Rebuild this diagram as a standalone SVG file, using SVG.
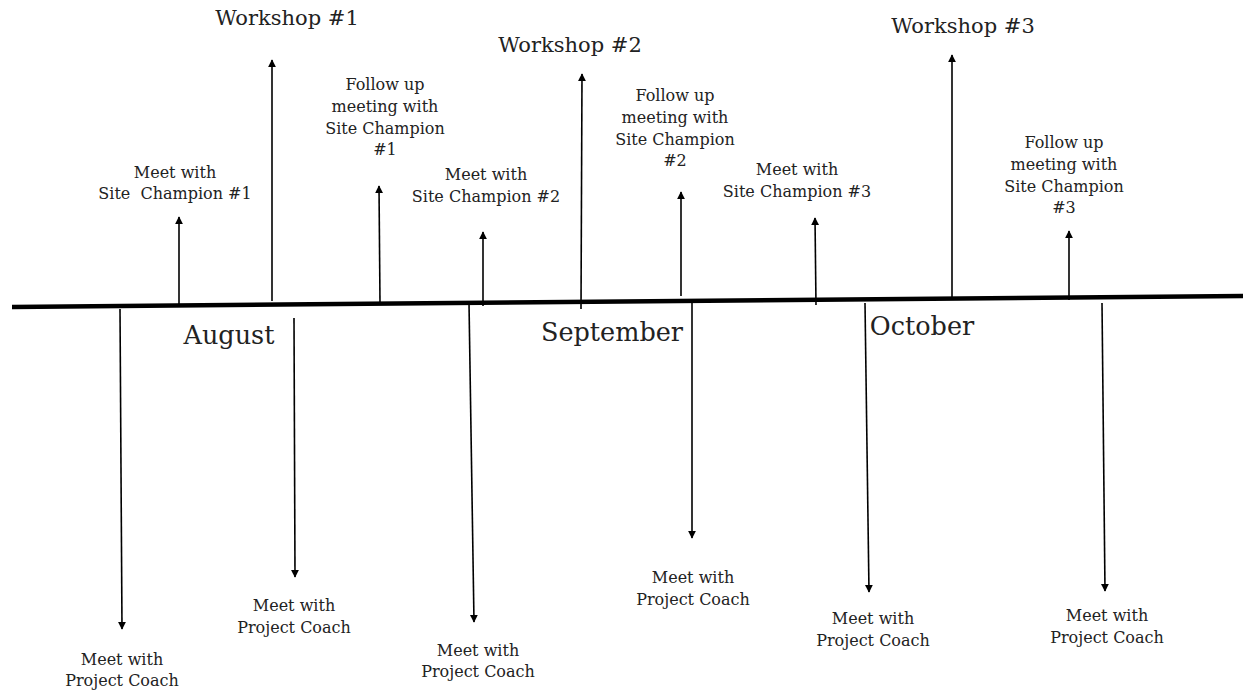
<svg xmlns="http://www.w3.org/2000/svg" width="1243" height="692" viewBox="0 0 1243 692">
<style>
  text { font-family: "DejaVu Serif", "Liberation Serif", serif; fill: #222; text-anchor: middle; }
  .lbl { font-size: 16px; }
  .ws { font-size: 21px; }
  .mon { font-size: 25.5px; }
  .arr { stroke: #000; stroke-width: 1.6; fill: none; marker-end: url(#ah); }
  .axis { stroke: #000; stroke-width: 4.5; fill: none; }
</style>
<defs>
  <marker id="ah" viewBox="0 0 10 10" refX="9" refY="5" markerWidth="5" markerHeight="5" orient="auto" markerUnits="strokeWidth">
    <path d="M0,0 L10,5 L0,10 z" fill="#000"/>
  </marker>
</defs>
<rect width="1243" height="692" fill="#fff"/>
<g id="connectors">
  <line class="axis" x1="12" y1="307" x2="1243" y2="296"/>
  <line class="arr" x1="179" y1="305" x2="179" y2="217"/>
  <line class="arr" x1="272" y1="301" x2="272" y2="60"/>
  <line class="arr" x1="380" y1="303" x2="379" y2="186"/>
  <line class="arr" x1="483" y1="306" x2="483" y2="232"/>
  <line class="arr" x1="581" y1="309" x2="582" y2="74"/>
  <line class="arr" x1="681" y1="296" x2="681" y2="192"/>
  <line class="arr" x1="816" y1="305" x2="815" y2="218"/>
  <line class="arr" x1="952" y1="299" x2="952" y2="55"/>
  <line class="arr" x1="1069" y1="300" x2="1069" y2="231"/>
  <line class="arr" x1="120" y1="309" x2="122" y2="629"/>
  <line class="arr" x1="294" y1="318" x2="295" y2="577"/>
  <line class="arr" x1="469" y1="303" x2="474" y2="622"/>
  <line class="arr" x1="692" y1="302" x2="692" y2="538"/>
  <line class="arr" x1="865" y1="303" x2="869" y2="592"/>
  <line class="arr" x1="1102" y1="303" x2="1105" y2="591"/>
</g>
<g id="workshop1"><text class="ws" x="287" y="25">Workshop #1</text></g>
<g id="workshop2"><text class="ws" x="570" y="52">Workshop #2</text></g>
<g id="workshop3"><text class="ws" x="963" y="33">Workshop #3</text></g>
<g id="sc1"><text class="lbl" x="175" y="178">Meet with</text><text class="lbl" x="175" y="199" xml:space="preserve">Site  Champion #1</text></g>
<g id="fu1"><text class="lbl" x="385" y="90">Follow up</text><text class="lbl" x="385" y="112">meeting with</text><text class="lbl" x="385" y="134">Site Champion</text><text class="lbl" x="385" y="155">#1</text></g>
<g id="sc2"><text class="lbl" x="486" y="180">Meet with</text><text class="lbl" x="486" y="202">Site Champion #2</text></g>
<g id="fu2"><text class="lbl" x="675" y="101">Follow up</text><text class="lbl" x="675" y="123">meeting with</text><text class="lbl" x="675" y="145">Site Champion</text><text class="lbl" x="675" y="166">#2</text></g>
<g id="sc3"><text class="lbl" x="797" y="175">Meet with</text><text class="lbl" x="797" y="197">Site Champion #3</text></g>
<g id="fu3"><text class="lbl" x="1064" y="148">Follow up</text><text class="lbl" x="1064" y="170">meeting with</text><text class="lbl" x="1064" y="192">Site Champion</text><text class="lbl" x="1064" y="213">#3</text></g>
<g id="aug"><text class="mon" x="229" y="344">August</text></g>
<g id="sep"><text class="mon" x="612" y="341">September</text></g>
<g id="oct"><text class="mon" x="922" y="335">October</text></g>
<g id="pc1"><text class="lbl" x="122" y="665">Meet with</text><text class="lbl" x="122" y="686">Project Coach</text></g>
<g id="pc2"><text class="lbl" x="294" y="611">Meet with</text><text class="lbl" x="294" y="633">Project Coach</text></g>
<g id="pc3"><text class="lbl" x="478" y="656">Meet with</text><text class="lbl" x="478" y="677">Project Coach</text></g>
<g id="pc4"><text class="lbl" x="693" y="583">Meet with</text><text class="lbl" x="693" y="605">Project Coach</text></g>
<g id="pc5"><text class="lbl" x="873" y="624">Meet with</text><text class="lbl" x="873" y="646">Project Coach</text></g>
<g id="pc6"><text class="lbl" x="1107" y="621">Meet with</text><text class="lbl" x="1107" y="643">Project Coach</text></g>
</svg>
